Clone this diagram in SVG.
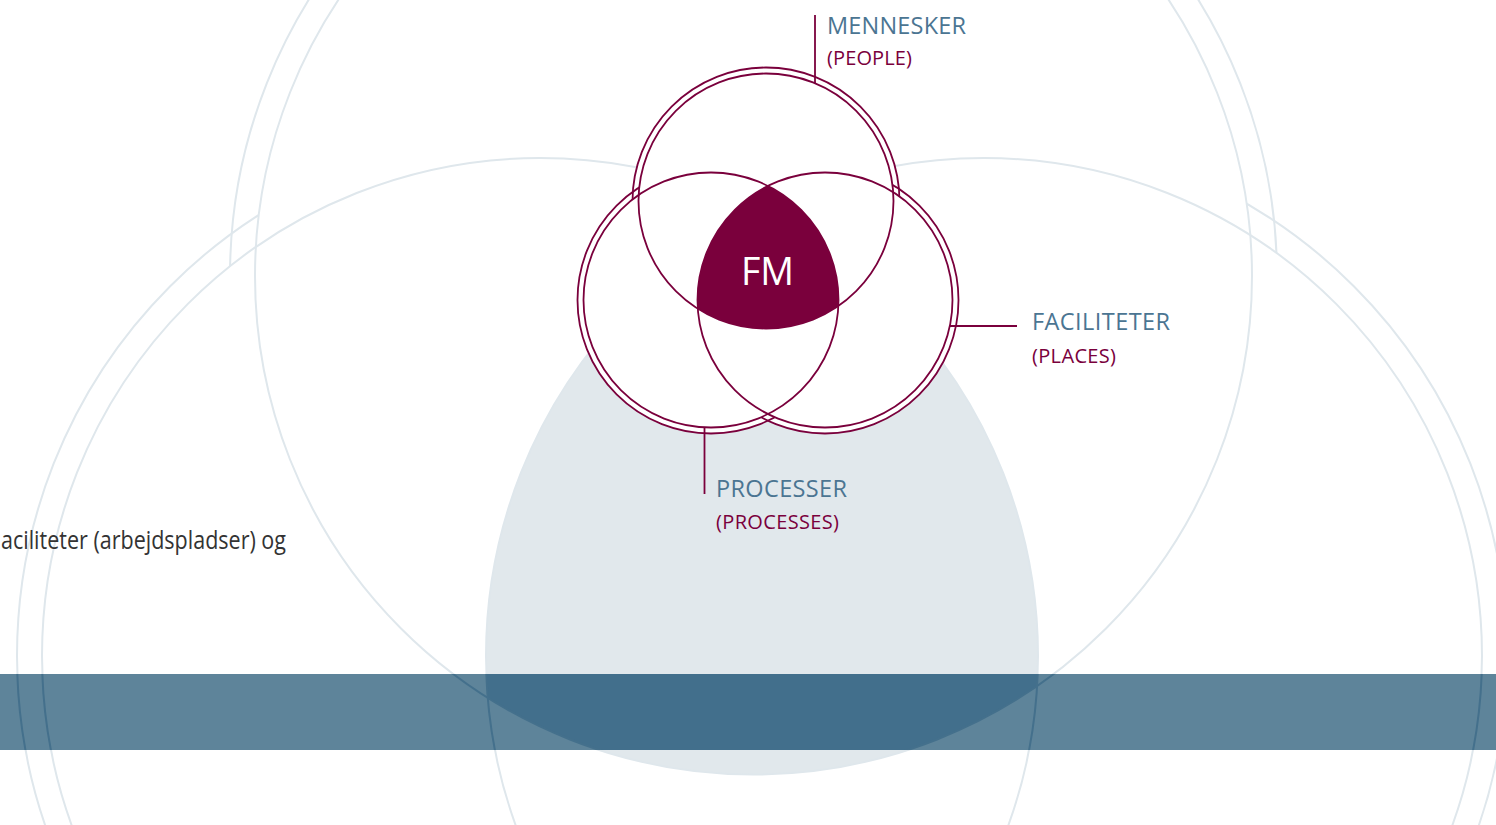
<svg xmlns="http://www.w3.org/2000/svg" width="1496" height="825" viewBox="0 0 1496 825">
<style>
.bgo{fill:none;stroke:#dfe7ec;stroke-width:2}
.bgi{fill:none;stroke:#dfe7ec;stroke-width:2}
.bgw{fill:#ffffff;stroke:none}
.grey{fill:#e1e8ec;stroke:none}
.bo{fill:none;stroke:#44708c;stroke-width:2}
.bw{fill:#5e849a;stroke:none}
.bg2{fill:#426f8c;stroke:none}
.ring{fill:none;stroke:#7a003c;stroke-width:1.8}
.wfill{fill:#ffffff;stroke:none}
.lead{stroke:#7a003c;stroke-width:1.8;fill:none}
.lbl{font-family:"Open Sans","Noto Sans","Liberation Sans",sans-serif;fill:#4b7592;font-size:23.5px}
.sub{font-family:"Open Sans","Noto Sans","Liberation Sans",sans-serif;fill:#7a003c;font-size:20px}
</style>
<defs>
<clipPath id="bigL"><circle cx="540" cy="656" r="498"/></clipPath>
<clipPath id="bigR"><circle cx="984" cy="656" r="498"/></clipPath>
<clipPath id="band"><rect x="0" y="674" width="1496" height="76"/></clipPath>
<clipPath id="smL"><circle cx="711" cy="300" r="127.5"/></clipPath>
<clipPath id="smR"><circle cx="825" cy="300" r="127.5"/></clipPath>
</defs>
<rect x="0" y="0" width="1496" height="825" fill="#ffffff"/>

<g id="background">
<circle class="bgo" cx="753.5" cy="276" r="523.5"/>
<circle class="bgo" cx="540" cy="656" r="523"/>
<circle class="bgo" cx="984" cy="656" r="523"/>
<circle class="bgw" cx="753.5" cy="276" r="498.5"/>
<circle class="bgw" cx="540" cy="656" r="498"/>
<circle class="bgw" cx="984" cy="656" r="498"/>
<g clip-path="url(#bigL)"><g clip-path="url(#bigR)"><circle class="grey" cx="753.5" cy="276" r="498.5"/></g></g>
<circle class="bgi" cx="753.5" cy="276" r="498.5"/>
<circle class="bgi" cx="540" cy="656" r="498"/>
<circle class="bgi" cx="984" cy="656" r="498"/>
</g>

<g id="band-strip">
<rect x="0" y="674" width="1496" height="76" fill="#5e849a"/>
<g clip-path="url(#band)">
<circle class="bo" cx="753.5" cy="276" r="523.5"/>
<circle class="bo" cx="540" cy="656" r="523"/>
<circle class="bo" cx="984" cy="656" r="523"/>
<circle class="bw" cx="753.5" cy="276" r="498.5"/>
<circle class="bw" cx="540" cy="656" r="498"/>
<circle class="bw" cx="984" cy="656" r="498"/>
<g clip-path="url(#bigL)"><g clip-path="url(#bigR)"><circle class="bg2" cx="753.5" cy="276" r="498.5"/></g></g>
<circle class="bo" cx="753.5" cy="276" r="498.5"/>
<circle class="bo" cx="540" cy="656" r="498"/>
<circle class="bo" cx="984" cy="656" r="498"/>
</g>
</g>

<g id="body-text">
<text x="1" y="549" font-family="'Open Sans','Noto Sans','Liberation Sans',sans-serif" font-size="25.5" fill="#333333" textLength="285" lengthAdjust="spacingAndGlyphs">aciliteter (arbejdspladser) og</text>
</g>

<g id="venn">
<g id="venn-outer-fill">
<circle class="wfill" cx="766" cy="201" r="133.5"/>
<circle class="wfill" cx="711" cy="300" r="133.5"/>
<circle class="wfill" cx="825" cy="300" r="133.5"/>
</g>
<g id="venn-outer-rings">
<circle id="people-outer" class="ring" cx="766" cy="201" r="133.5"/>
<circle id="processes-outer" class="ring" cx="711" cy="300" r="133.5"/>
<circle id="places-outer" class="ring" cx="825" cy="300" r="133.5"/>
</g>
<g id="venn-inner-fill">
<circle class="wfill" cx="766" cy="201" r="127.5"/>
<circle class="wfill" cx="711" cy="300" r="127.5"/>
<circle class="wfill" cx="825" cy="300" r="127.5"/>
</g>
<g id="fm">
<g clip-path="url(#smL)"><g clip-path="url(#smR)"><circle cx="766" cy="201" r="127.5" fill="#7a003c"/></g></g>
<text x="767.5" y="285" text-anchor="middle" font-family="'Open Sans','Noto Sans','Liberation Sans',sans-serif" font-size="37.5" fill="#ffffff">FM</text>
</g>
<g id="venn-inner-rings">
<circle id="people" class="ring" cx="766" cy="201" r="127.5"/>
<circle id="processes" class="ring" cx="711" cy="300" r="127.5"/>
<circle id="places" class="ring" cx="825" cy="300" r="127.5"/>
</g>
</g>

<g id="connectors">
<line class="lead" x1="815" y1="15" x2="815" y2="83.5"/>
<line class="lead" x1="949.8" y1="326" x2="1017" y2="326"/>
<line class="lead" x1="704.5" y1="427.3" x2="704.5" y2="494"/>
</g>

<g id="label-people">
<text class="lbl" x="827" y="33.5" textLength="139" lengthAdjust="spacing">MENNESKER</text>
<text class="sub" x="827" y="65" textLength="85" lengthAdjust="spacing">(PEOPLE)</text>
</g>
<g id="label-places">
<text class="lbl" x="1032" y="329.5" textLength="138" lengthAdjust="spacing">FACILITETER</text>
<text class="sub" x="1032" y="362.5" textLength="84" lengthAdjust="spacing">(PLACES)</text>
</g>
<g id="label-processes">
<text class="lbl" x="716" y="497" textLength="131" lengthAdjust="spacing">PROCESSER</text>
<text class="sub" x="716" y="528.5" textLength="123" lengthAdjust="spacing">(PROCESSES)</text>
</g>
</svg>
